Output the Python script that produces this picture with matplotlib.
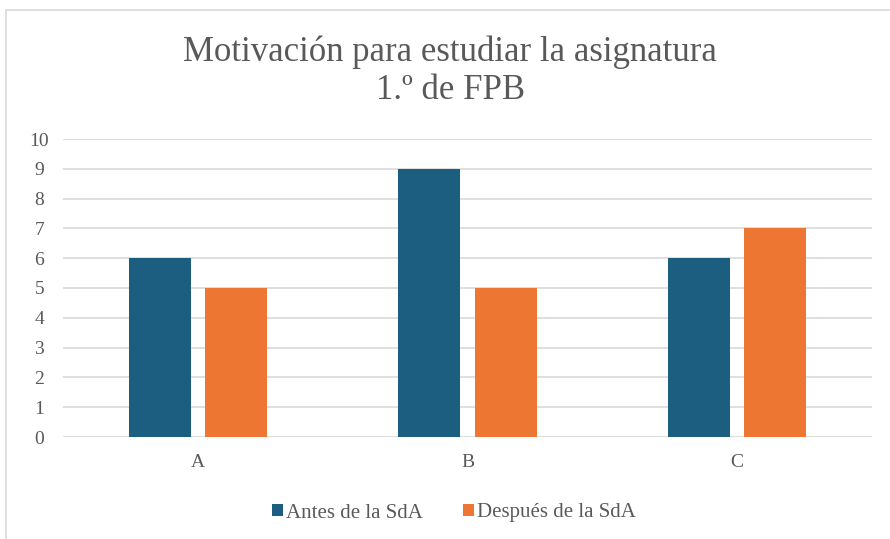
import numpy as np
import matplotlib.pyplot as plt
import matplotlib.patches as mpatches

plt.rcParams['font.family'] = ['Liberation Serif', 'DejaVu Serif']

categories = ['A', 'B', 'C']
antes = [6, 9, 6]
despues = [5, 5, 7]
series_labels = ['Antes de la SdA', 'Después de la SdA']
title = 'Motivación para estudiar la asignatura\n1.º de FPB'

blue = '#1b5e80'
orange = '#ec7632'
text_gray = '#595959'

fig = plt.figure(figsize=(8.9, 5.39), dpi=100)
fig.patch.set_facecolor('white')

# light frame around the chart area
fig.add_artist(mpatches.Rectangle((6 / 890, -0.01), 1.0, 1 - 10 / 539 + 0.01,
                                  transform=fig.transFigure, fill=False,
                                  edgecolor='#d9d9d9', linewidth=1.2))

ax = fig.add_axes([63 / 890, 1 - 437 / 539, 809 / 890, (437 - 139) / 539])

x = np.arange(len(categories))
width = 0.23
gap = 0.052
ax.bar(x - (width + gap) / 2, antes, width, color=blue, label=series_labels[0], zorder=3)
ax.bar(x + (width + gap) / 2, despues, width, color=orange, label=series_labels[1], zorder=3)

ax.set_xlim(-0.5, len(categories) - 0.5)
ax.set_ylim(0, 10)
ax.set_yticks(range(0, 11))
ax.set_xticks(x)
ax.set_xticklabels(categories)
ax.yaxis.grid(True, color='#d9d9d9', linewidth=1.2, zorder=0)
for s in ax.spines.values():
    s.set_visible(False)
ax.tick_params(axis='both', length=0, labelsize=14, colors=text_gray)
ax.tick_params(axis='x', pad=12)
ax.tick_params(axis='y', pad=17)
for lbl in ax.get_yticklabels():
    lbl.set_horizontalalignment('center')

fig.text(0.506, 1 - 71 / 539, title, ha='center', va='center',
         fontsize=25, color=text_gray, linespacing=1.2)

fig.legend(loc='center', bbox_to_anchor=(0.51, 1 - 513 / 539), ncol=2,
           frameon=False, fontsize=15, labelcolor=text_gray,
           handlelength=0.55, handleheight=0.55, handletextpad=0.15, columnspacing=1.9)

fig.savefig('out.png', dpi=100)
